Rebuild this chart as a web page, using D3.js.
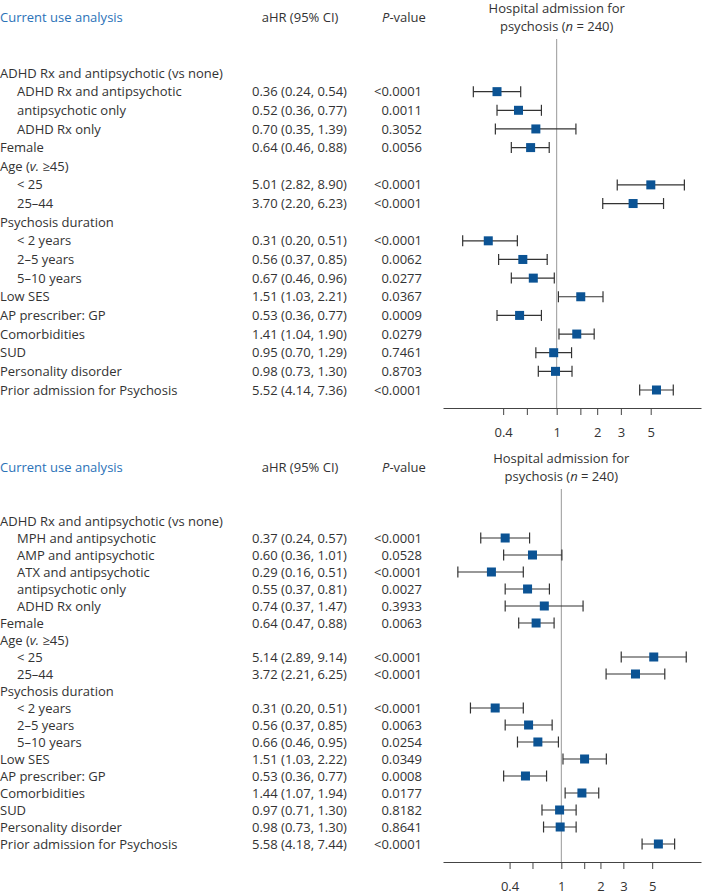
<!DOCTYPE html>
<html>
<head>
<meta charset="utf-8">
<script src="https://cdn.jsdelivr.net/npm/d3@7"></script>
<style>
body{margin:0;background:#fff;}
text{font-family:"Open Sans",sans-serif;fill:#333;}
</style>
</head>
<body>
<script>

// panel 1
var labels1=["ADHD Rx and antipsychotic (vs none)","ADHD Rx and antipsychotic","antipsychotic only","ADHD Rx only",
  "Female","Age (v. ≥45)","< 25","25–44","Psychosis duration","< 2 years","2–5 years","5–10 years",
  "Low SES","AP prescriber: GP","Comorbidities","SUD","Personality disorder","Prior admission for Psychosis"];
var indent1=[0,1,1,1,0,0,1,1,0,1,1,1,0,0,0,0,0,0];
var hr1=[null,0.36,0.52,0.70,0.64,null,5.01,3.70,null,0.31,0.56,0.67,1.51,0.53,1.41,0.95,0.98,5.52];
var lo1=[null,0.24,0.36,0.35,0.46,null,2.82,2.20,null,0.20,0.37,0.46,1.03,0.36,1.04,0.70,0.73,4.14];
var hi1=[null,0.54,0.77,1.39,0.88,null,8.90,6.23,null,0.51,0.85,0.96,2.21,0.77,1.90,1.29,1.30,7.36];
var p1=["","<0.0001","0.0011","0.3052","0.0056","","<0.0001","<0.0001","","<0.0001","0.0062","0.0277",
  "0.0367","0.0009","0.0279","0.7461","0.8703","<0.0001"];

// panel 2
var labels2=["ADHD Rx and antipsychotic (vs none)","MPH and antipsychotic","AMP and antipsychotic","ATX and antipsychotic",
  "antipsychotic only","ADHD Rx only","Female","Age (v. ≥45)","< 25","25–44","Psychosis duration","< 2 years",
  "2–5 years","5–10 years","Low SES","AP prescriber: GP","Comorbidities","SUD","Personality disorder","Prior admission for Psychosis"];
var indent2=[0,1,1,1,1,1,0,0,1,1,0,1,1,1,0,0,0,0,0,0];
var hr2=[null,0.37,0.60,0.29,0.55,0.74,0.64,null,5.14,3.72,null,0.31,0.56,0.66,1.51,0.53,1.44,0.97,0.98,5.58];
var lo2=[null,0.24,0.36,0.16,0.37,0.37,0.47,null,2.89,2.21,null,0.20,0.37,0.46,1.03,0.36,1.07,0.71,0.73,4.18];
var hi2=[null,0.57,1.01,0.51,0.81,1.47,0.88,null,9.14,6.25,null,0.51,0.85,0.95,2.22,0.77,1.94,1.30,1.30,7.44];
var p2=["","<0.0001","0.0528","<0.0001","0.0027","0.3933","0.0063","","<0.0001","<0.0001","","<0.0001","0.0063",
  "0.0254","0.0349","0.0008","0.0177","0.8182","0.8641","<0.0001"];

var tickVals=[0.4,0.6,1,1.5,2,3,5];
var tickLabels=[0.4,1,2,3,5];

var width=703,height=895;
var f2=d3.format(".2f");

var svg=d3.select("body").append("svg")
  .attr("width",width)
  .attr("height",height);

function panel(opt){
  var g=svg.append("g");
  var n=opt.labels.length;

  var y=d3.scalePoint().domain(d3.range(n)).range([opt.rowTop,opt.rowBottom]);
  var x=d3.scaleLog().domain(opt.xDomain).range([443,701]);

  // headers
  g.append("text").attr("x",0).attr("y",opt.headY).attr("dy","0.35em")
    .style("font-size","13px").style("fill","#2b72b8").text("Current use analysis");
  g.append("text").attr("x",300).attr("y",opt.headY).attr("dy","0.35em")
    .attr("text-anchor","middle").style("font-size","13px").text("aHR (95% CI)");
  var ph=g.append("text").attr("x",404).attr("y",opt.headY).attr("dy","0.35em")
    .attr("text-anchor","middle").style("font-size","13px");
  ph.append("tspan").style("font-style","italic").text("P");
  ph.append("tspan").text("-value");

  g.append("text").attr("x",x(1)).attr("y",opt.headY-9).attr("dy","0.35em")
    .attr("text-anchor","middle").style("font-size","13px").text("Hospital admission for");
  var t2=g.append("text").attr("x",x(1)).attr("y",opt.headY+9).attr("dy","0.35em")
    .attr("text-anchor","middle").style("font-size","13px");
  t2.append("tspan").text("psychosis (");
  t2.append("tspan").style("font-style","italic").text("n");
  t2.append("tspan").text(" = 240)");

  // reference line
  g.append("line")
    .attr("x1",x(1)).attr("x2",x(1))
    .attr("y1",opt.headY+22).attr("y2",opt.axisY)
    .style("stroke","#999").style("stroke-width",1);

  var rows=g.selectAll(".row").data(d3.range(n)).enter().append("g")
    .attr("class","row")
    .attr("transform",function(i){return "translate(0,"+y(i)+")";});

  rows.append("text")
    .attr("x",function(i){return opt.indent[i]?17:0;})
    .attr("dy","0.35em")
    .style("font-size","13px")
    .each(function(i){
      var lab=opt.labels[i];
      var s=d3.select(this);
      if(lab.indexOf("(v.")>=0){
        s.append("tspan").text("Age (");
        s.append("tspan").style("font-style","italic").text("v.");
        s.append("tspan").text(" ≥45)");
      }else{
        s.text(lab);
      }
    });

  rows.filter(function(i){return opt.hr[i]!=null;}).append("text")
    .attr("x",252).attr("dy","0.35em").style("font-size","13px")
    .text(function(i){return f2(opt.hr[i])+" ("+f2(opt.lo[i])+", "+f2(opt.hi[i])+")";});

  rows.append("text")
    .attr("x",422).attr("dy","0.35em").attr("text-anchor","end").style("font-size","13px")
    .text(function(i){return opt.p[i];});

  var est=rows.filter(function(i){return opt.hr[i]!=null;});
  est.append("line")
    .attr("x1",function(i){return x(opt.lo[i]);})
    .attr("x2",function(i){return x(opt.hi[i]);})
    .style("stroke","#333").style("stroke-width",1.2);
  est.append("line")
    .attr("x1",function(i){return x(opt.lo[i]);}).attr("x2",function(i){return x(opt.lo[i]);})
    .attr("y1",-5.5).attr("y2",5.5).style("stroke","#333").style("stroke-width",1.2);
  est.append("line")
    .attr("x1",function(i){return x(opt.hi[i]);}).attr("x2",function(i){return x(opt.hi[i]);})
    .attr("y1",-5.5).attr("y2",5.5).style("stroke","#333").style("stroke-width",1.2);
  est.append("rect")
    .attr("x",function(i){return x(opt.hr[i])-4.5;})
    .attr("y",-4.5).attr("width",9).attr("height",9)
    .style("fill","#0b5394");

  var axis=d3.axisBottom(x)
    .tickValues(tickVals)
    .tickSize(7)
    .tickSizeOuter(0)
    .tickFormat(function(d){return tickLabels.indexOf(d)>=0?d3.format("")(d):"";});

  var ax=g.append("g").attr("transform","translate(0,"+opt.axisY+")").call(axis);
  ax.select(".domain").style("stroke","#444");
  ax.selectAll(".tick line").style("stroke","#444");
  ax.selectAll(".tick text").attr("dy","1.45em").style("font-size","13px")
    .style("font-family","'Open Sans',sans-serif").style("fill","#333");
}

panel({labels:labels1,indent:indent1,hr:hr1,lo:lo1,hi:hi1,p:p1,
  rowTop:73,rowBottom:390,axisY:408,headY:17,xDomain:[0.1428,11.83]});
panel({labels:labels2,indent:indent2,hr:hr2,lo:lo2,hi:hi2,p:p2,
  rowTop:521,rowBottom:844,axisY:862,headY:467,xDomain:[0.123,11.87]});

</script>
</body>
</html>
